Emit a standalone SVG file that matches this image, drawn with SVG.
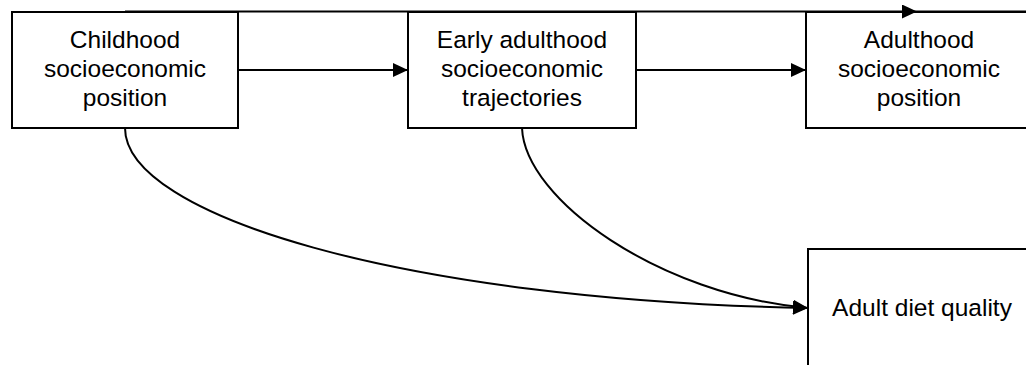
<svg xmlns="http://www.w3.org/2000/svg" width="1026" height="365" viewBox="0 0 1026 365">
<style>
.box{fill:#fff;stroke:#000;stroke-width:2}
.lbl{font-family:"Liberation Sans",Arial,sans-serif;font-size:24.5px;fill:#000;text-anchor:middle}
.edge{fill:none;stroke:#000;stroke-width:2}
</style>
<defs>
<marker id="arr" viewBox="0 0 15 14" refX="15" refY="7" markerWidth="15" markerHeight="14" markerUnits="userSpaceOnUse" orient="auto">
<path d="M0,0 L15,7 L0,14 Z" fill="#000"/>
</marker>
</defs>
<rect width="1026" height="365" fill="#fff"/>
<g id="node-childhood">
<rect class="box" x="12" y="12" width="226" height="116"/>
<text class="lbl" x="125" y="48">Childhood</text>
<text class="lbl" x="125" y="77">socioeconomic</text>
<text class="lbl" x="125" y="106">position</text>
</g>
<g id="node-early">
<rect class="box" x="408" y="12" width="228" height="116"/>
<text class="lbl" x="522" y="48">Early adulthood</text>
<text class="lbl" x="522" y="77">socioeconomic</text>
<text class="lbl" x="522" y="106">trajectories</text>
</g>
<g id="node-adulthood">
<rect class="box" x="806" y="12" width="230" height="116"/>
<text class="lbl" x="919" y="48">Adulthood</text>
<text class="lbl" x="919" y="77">socioeconomic</text>
<text class="lbl" x="919" y="106">position</text>
</g>
<g id="node-diet">
<rect class="box" x="808" y="249" width="230" height="122"/>
<text class="lbl" x="922" y="316">Adult diet quality</text>
</g>
<g id="connectors">
<path class="edge" d="M238,70 H408" marker-end="url(#arr)"/>
<path class="edge" d="M636,70 H806" marker-end="url(#arr)"/>
<path class="edge" d="M125,11.5 H917" marker-end="url(#arr)"/>
<path class="edge" d="M917,11.5 H1030"/>
<path class="edge" d="M125,128 C125,215 400,300 808,308" marker-end="url(#arr)"/>
<path class="edge" d="M522,128 C525,200 660,295 808,308" marker-end="url(#arr)"/>
</g>
</svg>
